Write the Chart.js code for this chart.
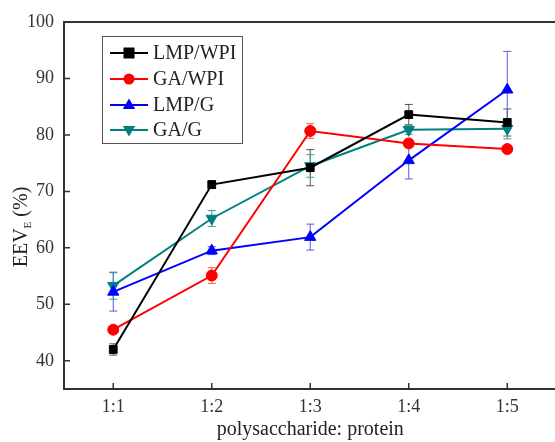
<!DOCTYPE html>
<html>
<head>
<meta charset="utf-8">
<script src="https://cdn.jsdelivr.net/npm/chart.js@4.4.1/dist/chart.umd.min.js"></script>
<style>
  html, body { margin: 0; padding: 0; background: #fff; overflow: hidden; }
  #wrap { width: 555px; height: 442px; overflow: hidden; }
</style>
</head>
<body>
<div id="wrap"><canvas id="eevChart" width="564" height="442"></canvas></div>
<script>
// ratios on the x axis
var ratios = ["1:1", "1:2", "1:3", "1:4", "1:5"];
var yTicks = [40, 50, 60, 70, 80, 90, 100];

// EEV_E (%) for each system, with standard deviations
var lmpWpi = [42.0, 71.2, 74.2, 83.6, 82.2];
var lmpWpiErr = [1.0, 0.7, 3.2, 1.8, 2.4];
var gaWpi = [45.5, 55.1, 80.7, 78.5, 77.5];
var gaWpiErr = [0.6, 1.4, 1.3, 0.6, 0.5];
var lmpG = [52.2, 59.5, 61.9, 75.5, 88.0];
var lmpGErr = [3.4, 0.7, 2.3, 3.3, 6.8];
var gaG = [53.3, 65.2, 74.5, 80.9, 81.1];
var gaGErr = [2.4, 1.4, 2.0, 0.8, 1.8];

var SERIF = "'Liberation Serif', 'DejaVu Serif', serif";

function series(label, data, err, color, barColor, style, rot, radius) {
  return {
    label: label,
    data: data,
    err: err,
    barColor: barColor,
    borderColor: color,
    backgroundColor: color,
    borderWidth: 2,
    pointStyle: style,
    rotation: rot,
    pointRadius: radius,
    pointBorderWidth: 1,
    tension: 0
  };
}

var datasets = [
  series("LMP/WPI", lmpWpi, lmpWpiErr, "#000000", "#555555", "rect", 0, 5.5),
  series("GA/WPI", gaWpi, gaWpiErr, "#ff0000", "#f06060", "circle", 0, 5.5),
  series("LMP/G", lmpG, lmpGErr, "#0000ff", "#5a5ae8", "triangle", 0, 6.5),
  series("GA/G", gaG, gaGErr, "#008080", "#3a9a94", "triangle", 180, 6.5)
];

function marker(ctx, style, rot, x, y, r, color) {
  ctx.save();
  ctx.fillStyle = color;
  ctx.beginPath();
  if (style === "rect") {
    ctx.rect(x - r, y - r, 2 * r, 2 * r);
  } else if (style === "circle") {
    ctx.arc(x, y, r, 0, Math.PI * 2);
  } else {
    var s = rot === 180 ? -1 : 1;
    ctx.moveTo(x, y - s * r);
    ctx.lineTo(x + r * 0.95, y + s * r * 0.6);
    ctx.lineTo(x - r * 0.95, y + s * r * 0.6);
    ctx.closePath();
  }
  ctx.fill();
  ctx.restore();
}

var errorBars = {
  id: "errorBars",
  beforeDatasetsDraw: function (chart) {
    var ctx = chart.ctx;
    var xs = chart.scales.x, ys = chart.scales.y;
    ctx.save();
    ctx.lineWidth = 1;
    chart.data.datasets.forEach(function (ds) {
      ctx.strokeStyle = ds.barColor;
      ds.data.forEach(function (v, i) {
        var x = xs.getPixelForValue(i);
        var top = ys.getPixelForValue(v + ds.err[i]);
        var bot = ys.getPixelForValue(v - ds.err[i]);
        ctx.beginPath();
        ctx.moveTo(x, top); ctx.lineTo(x, bot);
        ctx.moveTo(x - 4, top); ctx.lineTo(x + 4, top);
        ctx.moveTo(x - 4, bot); ctx.lineTo(x + 4, bot);
        ctx.stroke();
      });
    });
    ctx.restore();
  }
};

var frame = {
  id: "frame",
  afterDraw: function (chart) {
    var ctx = chart.ctx;
    var a = chart.chartArea;
    var xs = chart.scales.x, ys = chart.scales.y;
    ctx.save();
    ctx.strokeStyle = "#333333";
    ctx.lineWidth = 2;
    ctx.beginPath();
    ctx.moveTo(a.left, a.top); ctx.lineTo(a.right, a.top);
    ctx.lineTo(a.right, a.bottom);
    ctx.stroke();

    // inward tick marks
    ctx.lineWidth = 1.5;
    ctx.beginPath();
    xs.ticks.forEach(function (t, i) {
      var x = xs.getPixelForTick(i);
      ctx.moveTo(x, a.bottom); ctx.lineTo(x, a.bottom - 6);
    });
    ys.ticks.forEach(function (t, i) {
      var y = ys.getPixelForTick(i);
      ctx.moveTo(a.left, y); ctx.lineTo(a.left + 6, y);
    });
    ctx.stroke();

    // axis titles
    ctx.fillStyle = "#222222";
    ctx.font = "20px " + SERIF;
    ctx.textAlign = "center";
    ctx.textBaseline = "middle";
    ctx.fillText("polysaccharide: protein", (a.left + a.right) / 2, 430);

    ctx.translate(22, 227);
    ctx.rotate(-Math.PI / 2);
    ctx.textAlign = "left";
    var w1 = ctx.measureText("EEV").width;
    ctx.font = "11px " + SERIF;
    var w2 = ctx.measureText("E").width;
    ctx.font = "20px " + SERIF;
    var w3 = ctx.measureText(" (%)").width;
    var x0 = -(w1 + w2 + w3) / 2;
    ctx.fillText("EEV", x0, 0);
    ctx.font = "11px " + SERIF;
    ctx.fillText("E", x0 + w1, 6);
    ctx.font = "20px " + SERIF;
    ctx.fillText(" (%)", x0 + w1 + w2, 0);
    ctx.restore();

    // legend box
    ctx.save();
    ctx.strokeStyle = "#555555";
    ctx.lineWidth = 1;
    ctx.strokeRect(102.5, 36.5, 140, 107);
    ctx.font = "20px " + SERIF;
    ctx.textBaseline = "middle";
    ctx.fillStyle = "#222222";
    var rows = [53, 79, 105, 130];
    chart.data.datasets.forEach(function (ds, i) {
      var y = rows[i];
      ctx.strokeStyle = ds.borderColor;
      ctx.lineWidth = 2;
      ctx.beginPath();
      ctx.moveTo(110, y); ctx.lineTo(148, y);
      ctx.stroke();
      marker(ctx, ds.pointStyle, ds.rotation, 129, y, ds.pointRadius, ds.borderColor);
      ctx.fillStyle = "#222222";
      ctx.fillText(ds.label, 153, y + 1);
    });
    ctx.restore();
  }
};

var ctx = document.getElementById("eevChart").getContext("2d");
var eevChart = new Chart(ctx, {
  type: "line",
  data: {
    labels: ratios,
    datasets: datasets
  },
  options: {
    responsive: false,
    animation: false,
    layout: { padding: { top: 22, right: 0, left: 0, bottom: 0 } },
    plugins: {
      legend: { display: false },
      tooltip: { enabled: false }
    },
    scales: {
      x: {
        type: "category",
        offset: true,
        grid: { display: true, drawOnChartArea: false, drawTicks: false },
        border: { color: "#333333", width: 2 },
        ticks: {
          color: "#333333",
          padding: 7,
          font: { family: SERIF, size: 18 }
        },
        afterFit: function (s) { s.height = 53; }
      },
      y: {
        min: 35,
        max: 100,
        grid: { display: true, drawOnChartArea: false, drawTicks: false },
        border: { color: "#333333", width: 2 },
        ticks: {
          color: "#333333",
          padding: 10,
          font: { family: SERIF, size: 18 }
        },
        afterBuildTicks: function (s) {
          s.ticks = yTicks.map(function (v) { return { value: v }; });
        },
        afterFit: function (s) { s.width = 64; }
      }
    }
  },
  plugins: [errorBars, frame]
});
</script>
</body>
</html>
